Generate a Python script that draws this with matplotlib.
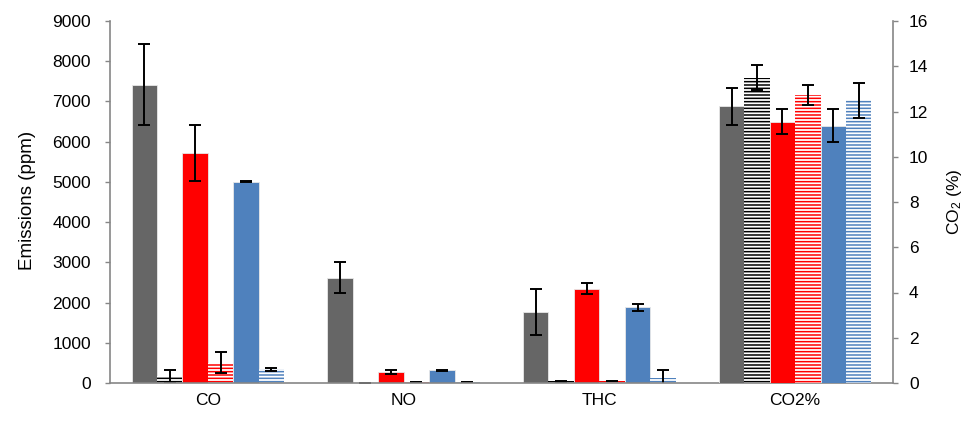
import matplotlib
matplotlib.use("Agg")
import matplotlib.pyplot as plt
import numpy as np

plt.rcParams['font.family'] = ['Liberation Sans', 'DejaVu Sans']
plt.rcParams['mathtext.fontset'] = 'custom'
plt.rcParams['mathtext.rm'] = 'Liberation Sans'
plt.rcParams['mathtext.it'] = 'Liberation Sans:italic'
plt.rcParams['hatch.linewidth'] = 1.1

# ---- data ----
categories = ["CO", "NO", "THC", "CO2%"]
ppm_categories = ["CO", "NO", "THC"]

gray_vals = [7420, 2620, 1760]
gray_err = [1000, 380, 570]
black_hatch_vals = [170, 10, 40]
black_hatch_err = [150, 0, 10]
red_vals = [5720, 275, 2345]
red_err = [700, 55, 130]
red_hatch_vals = [500, 30, 50]
red_hatch_err = [260, 0, 10]
blue_vals = [5000, 315, 1880]
blue_err = [15, 10, 80]
blue_hatch_vals = [340, 20, 120]
blue_hatch_err = [35, 0, 200]

co2_vals = [12.24, 13.5, 11.55, 12.72, 11.38, 12.5]
co2_err = [0.82, 0.55, 0.56, 0.45, 0.72, 0.78]

left_ticks = [0, 1000, 2000, 3000, 4000, 5000, 6000, 7000, 8000, 9000]
right_ticks = [0, 2, 4, 6, 8, 10, 12, 14, 16]

# ---- styles ----
series_ppm = [
    (gray_vals, gray_err, "#666666", False),
    (black_hatch_vals, black_hatch_err, "#000000", True),
    (red_vals, red_err, "#FF0000", False),
    (red_hatch_vals, red_hatch_err, "#FF0000", True),
    (blue_vals, blue_err, "#4F81BD", False),
    (blue_hatch_vals, blue_hatch_err, "#4F81BD", True),
]

fig = plt.figure(figsize=(9.66, 4.21), dpi=100)
ax = fig.add_axes([110/966, 1-383/421, (893-110)/966, (383-21)/421])
ax2 = ax.twinx()

w = 0.13
x = np.arange(len(categories))
xp = np.arange(len(ppm_categories))
err_kw = dict(ecolor='black', elinewidth=1.4, capsize=4.5, capthick=1.4)

for i, (vals, errs, col, hatched) in enumerate(series_ppm):
    off = (i - 2.5) * w
    if hatched:
        ax.bar(xp + off, vals, w, facecolor='white', edgecolor=col, linewidth=0,
               hatch='-----', yerr=errs, error_kw=err_kw, zorder=2)
    else:
        ax.bar(xp + off, vals, w, color=col, edgecolor='#e8e8e8', linewidth=0.6,
               yerr=errs, error_kw=err_kw, zorder=2)

for i, (_, _, col, hatched) in enumerate(series_ppm):
    off = (i - 2.5) * w
    if hatched:
        ax2.bar(x[3] + off, co2_vals[i], w, facecolor='white', edgecolor=col, linewidth=0,
                hatch='-----', yerr=co2_err[i], error_kw=err_kw, zorder=2)
    else:
        ax2.bar(x[3] + off, co2_vals[i], w, color=col, edgecolor='#e8e8e8', linewidth=0.6,
                yerr=co2_err[i], error_kw=err_kw, zorder=2)

ax.set_xlim(-0.5, 3.5)
ax.set_ylim(0, 9000)
ax2.set_ylim(0, 16)
ax.set_yticks(left_ticks)
ax2.set_yticks(right_ticks)
ax.set_xticks(x)
ax.set_xticklabels(categories, fontsize=12.5)
ax.tick_params(axis='x', length=0, pad=7)
ax.tick_params(axis='y', labelsize=12.5, length=3.6, color='#868686', width=1, pad=10)
ax2.tick_params(axis='y', labelsize=12.5, length=3.6, color='#868686', width=1, pad=8)

for a in (ax, ax2):
    a.spines['top'].set_visible(False)
    for s in ('left', 'right', 'bottom'):
        a.spines[s].set_color('#868686')
        a.spines[s].set_linewidth(1.2)
ax.spines['right'].set_visible(False)
ax2.spines['left'].set_visible(False)
ax2.spines['bottom'].set_visible(False)

fig.text(28/966, 1-200/421, "Emissions (ppm)", rotation=90, ha='center', va='center', fontsize=13.5)
fig.text(954/966, 1-202/421, "CO$_2$ (%)", rotation=90, ha='center', va='center', fontsize=12.5)

fig.savefig("out.png", dpi=100)
